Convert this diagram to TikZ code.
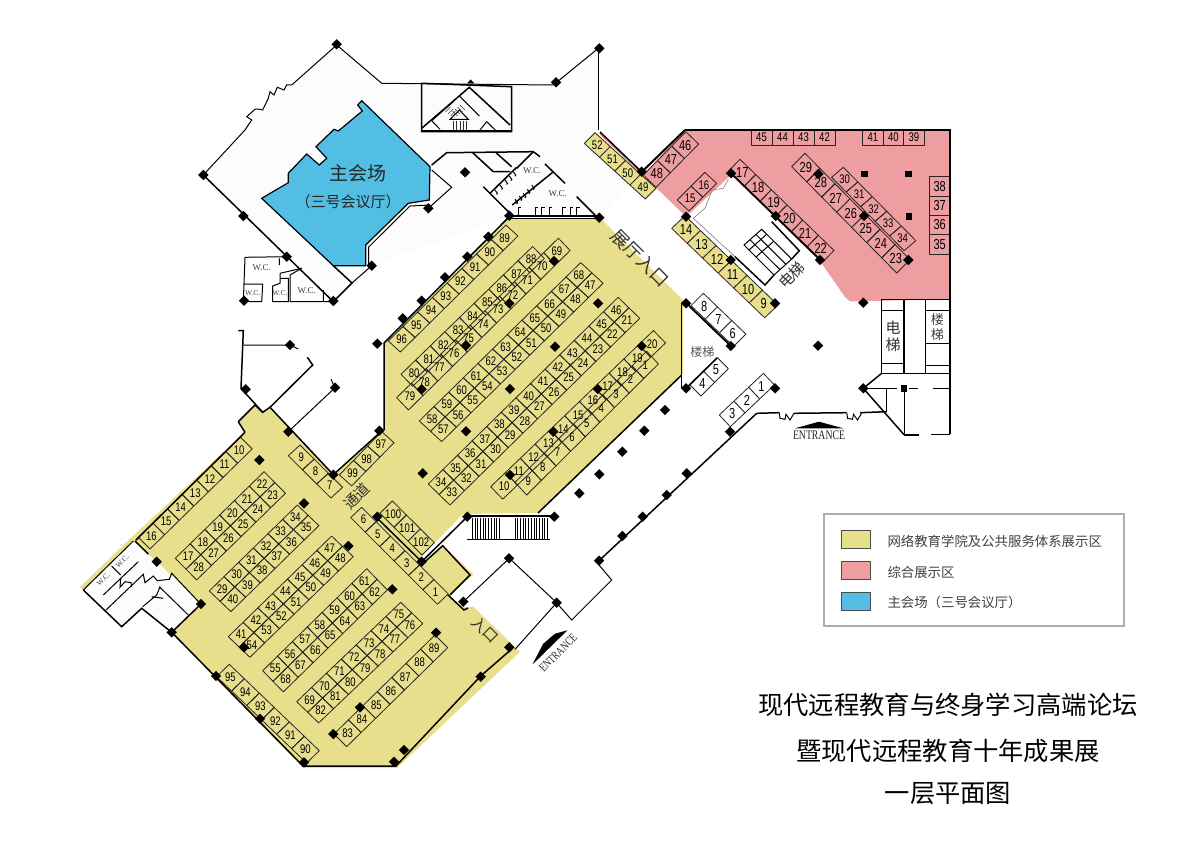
\documentclass[tikz,border=0pt]{standalone}
\usepackage{fontspec}
\newfontfamily\cjk{Noto Sans CJK SC}
\newfontfamily\numfont[FakeStretch=0.76]{Liberation Sans}
\newfontfamily\wcfont{Liberation Serif}
\newfontfamily\gatefont[FakeStretch=0.75]{Liberation Serif}
\definecolor{hallyellow}{HTML}{E8DF8C}
\definecolor{hallpink}{HTML}{EE9DA0}
\definecolor{hallblue}{HTML}{52BEE4}
\tikzset{
  booth/.style={draw=black!85,line width=0.8pt,line join=round,font=\numfont\fontsize{12.5}{12.5}\selectfont},
  boothnum/.style={inner sep=0pt,text=black},
  bignum/.style={font=\numfont\fontsize{14.5}{14.5}\selectfont},
  wall/.style={draw=black,line width=1.5pt,line join=miter},
  thickwall/.style={draw=black,line width=2pt},
  thinwall/.style={draw=black,line width=1pt},
  swatch/.style={draw=black!70,line width=0.8pt},
  wclabel/.style={font=\wcfont\fontsize{9}{9}\selectfont,text=black!75,inner sep=0pt},
  hanlabel/.style={font=\cjk\fontsize{15}{15}\selectfont,text=black!80,inner sep=0pt},
  legendtext/.style={font=\cjk\fontsize{13.4}{13.4}\selectfont,text=black!75,anchor=west,inner sep=0pt},
  titletext/.style={font=\cjk\fontsize{25.3}{25.3}\selectfont,inner sep=0pt}
}
% one straight row of booths: start corner, step along the row, depth, labels
\newcommand{\boothrow}[8][]{
  \foreach \lab [count=\n from 0] in {#8} {
    \draw[booth,#1] ({#2+\n*(#4)},{#3+\n*(#5)}) -- ++(#4,#5) -- ++(#6,#7) -- ++({-(#4)},{-(#5)}) -- cycle
      node[boothnum] (booth\lab) at ({#2+(\n+.5)*(#4)+.5*(#6)},{#3+(\n+.5)*(#5)+.5*(#7)}) {\lab};
  }
}
\begin{document}
\begin{tikzpicture}[x=1pt,y=-1pt]
\useasboundingbox (0,0) rectangle (1200,848);
\fill[white] (0,0) rectangle (1200,848);

% floor areas
\fill[black!1] (336.7,45) -- (381.7,83.3) -- (553.3,85) -- (598.3,48.3) -- (598.3,130) -- (641,172) -- (600,217) -- (508,217) -- (371,265) -- (352,283) -- (333,301) -- (203,175) -- (291.7,85) -- cycle;
\fill[hallyellow] (508,218) -- (600,218) -- (683,300) -- (683,374) -- (538,513) -- (463,514) -- (422,556) -- (426,561) -- (443,545.5) -- (473.5,574.5) -- (448,596) -- (463,607) -- (473.3,606.7) -- (520,651.7) -- (397,768) -- (303,768) -- (171.7,632.3) -- (201,604) -- (156.7,561.7) -- (133.3,541) -- (83.3,590) -- (80,587) -- (133,536) -- (245,432) -- (238.3,421.7) -- (255,405) -- (262.7,412.3) -- (270,407) -- (333.3,474.7) -- (384,430) -- (384,343) -- cycle;
\fill[black!1] (83.3,590) -- (133.3,541) -- (148,554) -- (156.7,561.7) -- (200,603) -- (171.7,632) -- (141.7,608.3) -- (121.7,626.7) -- cycle;
\fill[hallpink] (685,130) -- (950,130) -- (950,299) -- (850,301.5) -- (845,297) -- (820,261) -- (731,175) -- (686,216.7) -- (643,175) -- cycle;
\draw[fill=hallblue,draw=black,line width=1.2pt] (361.7,100.7) -- (430,166.7) -- (429.3,200) -- (408.3,203.3) -- (365.7,245) -- (365.7,265.7) -- (333.3,265.7) -- (261.7,198.3) -- (288.3,182.7) -- (288.3,173.3) -- (306.7,154) -- (319.3,165) -- (326.7,158.3) -- (316,146.7) -- (334,129.3) -- (338.3,131) -- (362.3,111) -- (357.7,105) -- cycle;

% booths, lower hall
\boothrow{138.3}{537.3}{14.6}{-14.3}{11.7}{11.7}{16,15,14,13,12,11,10}
\boothrow{175.3}{558.3}{14.8}{-14.44}{10.67}{10.83}{17,18,19,20,21,22}
\boothrow{186}{569.1}{14.8}{-14.44}{10.67}{10.83}{28,27,26,25,24,23}
\boothrow{209.3}{591}{14.67}{-14.33}{10.8}{10.3}{29,30,31,32,33,34}
\boothrow{220.1}{601.3}{14.67}{-14.33}{10.8}{10.3}{40,39,38,37,36,35}
\boothrow{228.3}{636.7}{14.76}{-14.38}{10.8}{10.3}{41,42,43,44,45,46,47}
\boothrow{239.1}{647}{14.76}{-14.38}{10.8}{10.3}{54,53,52,51,50,49,48}
\boothrow{262.7}{670.7}{14.86}{-14.57}{10.3}{10.6}{55,56,57,58,59,60,61}
\boothrow{273}{681.3}{14.86}{-14.57}{10.3}{10.6}{68,67,66,65,64,63,62}
\boothrow{296.7}{701.7}{14.86}{-14.2}{11}{10.6}{69,70,71,72,73,74,75}
\boothrow{307.7}{712.3}{14.86}{-14.2}{11}{10.6}{82,81,80,79,78,77,76}
\boothrow{334}{734}{14.43}{-14.14}{12.67}{12.67}{83,84,85,86,87,88,89}
\boothrow{229.3}{664.3}{15}{14.4}{-12.67}{12.33}{95,94,93,92,91,90}
\boothrow{300}{445}{14.2}{14.1}{-11.7}{10.7}{9,8,7}
\boothrow{361.7}{507.3}{14.44}{14.44}{-11}{10.3}{6,5,4,3,2,1}
\boothrow{392.3}{501}{14}{13.9}{-12.3}{12.3}{100,101,102}
\boothrow{381.7}{431.7}{-14.1}{14.4}{12.3}{11}{97,98,99}

% booths, upper hall
\boothrow{388.3}{341}{14.7}{-14.5}{12}{11}{96,95,94,93,92,91,90,89}
\boothrow{401}{374.3}{14.63}{-14.2}{11.7}{12}{80,81,82,83,84,85,86,87,88}
\boothrow{396.7}{397.7}{14.7}{-14.5}{11.7}{12.3}{79,78,77,76,75,74,73,72,71,70,69}
\boothrow{419.3}{421}{14.67}{-14.4}{11.2}{10.3}{58,59,60,61,62,63,64,65,66,67,68}
\boothrow{430.5}{431.3}{14.67}{-14.4}{11.2}{10.3}{57,56,55,54,53,52,51,50,49,48,47}
\boothrow{428.3}{484}{14.6}{-14.36}{10.8}{10.5}{34,35,36,37,38,39,40,41,42,43,44,45,46}
\boothrow{439.1}{494.5}{14.6}{-14.36}{10.8}{10.5}{33,32,31,30,29,28,27,26,25,24,23,22,21}
\boothrow{490.7}{486.7}{14.8}{-14.2}{12}{12.5}{10,11,12,13,14,15,16,17,18,19,20}
\boothrow{515}{482.3}{14.63}{-14.56}{11.7}{12.7}{9,8,7,6,5,4,3,2,1}

% booths, pink area and foyer
\boothrow[fill=hallyellow]{595}{132.7}{15.25}{13.9}{-10.7}{10.7}{52,51,50,49}
\boothrow[bignum]{643.3}{175}{14.2}{-14.4}{12.7}{12.3}{48,47,46}
\boothrow{677.3}{200}{13.8}{-13.8}{11.7}{11}{15,16}
\boothrow[bignum]{740}{159.3}{15.67}{15.2}{-11}{11.3}{17,18,19,20,21,22}
\boothrow[bignum]{805}{153.3}{15}{15.2}{-13.3}{13.3}{29,28,27,26,25,24,23}
\boothrow{843.3}{167.3}{14.5}{14.67}{-11.7}{10}{30,31,32,33,34}
\boothrow{751}{130}{21}{0}{0}{15}{45,44,43,42}
\boothrow{862.7}{130}{20.5}{0}{0}{15}{41,40,39}
\boothrow[bignum]{929.3}{176.7}{0}{19.3}{20.7}{0}{38,37,36,35}
\boothrow[fill=hallyellow,bignum]{685}{215.7}{15.5}{14.9}{-13.3}{12.7}{14,13,12,11,10,9}
\boothrow[fill=white,bignum]{703.3}{293.3}{14.2}{13.6}{-12.3}{12.3}{8,7,6}
\boothrow[fill=white,bignum]{690}{385}{13.7}{-13.7}{11}{11}{4,5}
\boothrow[fill=white,bignum]{719.3}{415}{14.7}{-13.9}{11}{11.7}{3,2,1}

% red hairlines on the yellow strips
\draw[red!70,line width=0.5pt,dotted] (671.7,228.3) -- (765,318);
\draw[red!70,line width=0.6pt] (600,134) -- (645,177);

% outer walls, main hall side
\draw[thinwall] (203.3,175) -- (245,130) -- (251.7,120) -- (246.7,116.7) -- (255,109.3) -- (258.3,109) -- (262.7,110) -- (268.3,98.3) -- (270,91.7) -- (274,95) -- (277.3,87.3) -- (284,90) -- (286.7,85) -- (291.7,85) -- (336.7,45) -- (381.7,83.3) -- (553.3,85) -- (598.3,48.3);
\draw[wall] (598.3,48.3) -- (598.3,130);
\draw[wall] (203.3,175) -- (333.3,301.7) -- (352,283) -- (333.3,265.7);
\draw[thinwall] (352,283) -- (371.7,265.7);
\draw[thinwall] (368.7,265) -- (368.7,247) -- (410,206) -- (430,205);
\draw[thinwall] (431.7,170) -- (451.7,187.3) -- (428.3,208.3);
\draw[wall] (431.7,165) -- (446.7,152.7) -- (533.3,151.7) -- (540,156.7);

% stair box at the top
\draw[wall] (421.7,83.3) -- (511.7,86.7) -- (511.7,131.7) -- (421.7,131.7) -- cycle;
\draw[wall] (421.7,128.3) -- (469.3,87.3) -- (510,125);
\draw[wall] (421.7,130.7) -- (511.7,130.7);
\draw[thinwall] (431.7,120.7) -- (453.3,101.7) (431.7,120.7) -- (440,129.3) (459.3,96) -- (479.3,116) (480,130) -- (486.7,121.7) -- (496,130.7);
\draw[thinwall] (450,119.3) -- (459.3,110) -- (468.3,119.3) -- cycle;
\foreach \x in {453.3,456.6,460,463.3,466.7} \draw[black!80,line width=0.6pt] (\x,120.7) -- (\x,130);
\foreach \t in {0,2.5,5,7.5} {
  \draw[black!80,line width=0.6pt] ({443+\t},{110+\t*.8}) -- ++(5,-5);
  \draw[black!80,line width=0.6pt] ({465-\t},{110+\t*.8}) -- ++(-5,-5);
}

% washrooms at the head of the upper hall
\draw[wall] (472.7,152.7) -- (493.3,171.7) -- (510,171.7);
\draw[wall] (496,152.7) -- (511.7,166.7);
\draw[wall] (533.3,151.7) -- (516.7,168.3);
\draw[wall] (483.3,186.7) -- (510,213.3);
\draw[wall] (490,193.3) -- (516.7,167.3);
\draw[wall] (512.3,205) -- (552.7,172.3);
\draw[wall] (545,164) -- (565,183.3);
\draw[wall] (576.7,196.7) -- (595,215);
\draw[wall] (509.3,216) -- (599.3,216);
\draw[thinwall] (507,218.6) -- (600,218.6);
\foreach \x/\y in {495/190,500/185,505/180,509.3/176,513.3/171.7,515/199.3,519.3/196,523.3/193.3,527.3/189.3,531.7/185}
  \draw[thinwall] (\x,\y) -- ++(2.5,3.5) -- ++(-1,1);
\foreach \x in {518.3,535,541.7,549.3,562.7,570,576.7}
  \draw[thinwall] (\x,216) -- (\x,207) -- ++(3,0);

% washrooms lower left of the main hall
\draw[thinwall] (286.7,256.7) -- (245,257.3) -- (243.3,301.7) -- (261.7,301.7) -- (262.7,284) -- (243.3,284);
\draw[thinwall] (279.3,258.3) -- (279.3,265) (280,273.3) -- (280,283.3) (280,278.3) -- (288.3,278.3) -- (288.3,301.7) -- (272.7,301.7) -- (272.7,286) -- (280,283.3);
\draw[thinwall] (301.7,268.3) -- (290,275) -- (290,301.7) -- (333.3,301.7) (323.3,290) -- (323.3,301.7);
\draw[thinwall] (280,273.3) -- (301.7,268.3);

% walls round the lower hall
\draw[wall] (238.3,330.7) -- (243.3,330.7) -- (241,388.3) -- (262.7,412.3) -- (270,407.3) -- (312.7,365) -- (307.3,357.3);
\draw[thinwall] (243.3,345) -- (290,345) -- (298.3,349);
\draw[thinwall] (288.3,431.7) -- (335,387.7) -- (331,379.3);
\draw[wall] (270,407.3) -- (333.3,474.7);
\draw[wall] (333.3,474.7) -- (381.7,431);
\draw[wall] (384,430) -- (384,343) -- (508,218);
\draw[wall] (245,432.3) -- (238.3,421.7) (245,432.3) -- (136,540);
\draw[wall] (238.3,421.7) -- (255,405) -- (262.7,412.3);
\draw[wall] (83.3,590) -- (121.7,626.7) -- (141.7,608.3) -- (171.7,632.3) -- (303,766) -- (396,766) -- (480.7,676) -- (511.7,649);
\draw[thinwall] (83.3,590) -- (133.3,541);
\draw[wall] (135,541) -- (148.3,554);
\draw[thinwall] (103.3,595) -- (138.3,561.7) (111.7,566) -- (120.7,575);
\draw[thinwall] (106,610) -- (143.3,574.3) -- (145,582.7) -- (153.3,576) -- (157.3,580.7) -- (169.3,579.3) -- (171.7,573.3) -- (200,603.3);
\draw[thinwall] (131.7,586.7) -- (131,582.7) -- (125,581.7) -- (120,587.3) -- (120.7,578.3);
\draw[thinwall] (159.3,586.7) -- (188.3,615);
\draw[thinwall] (142.7,606.7) -- (156.7,595) -- (160,586.7) (151.7,596.7) -- (163.3,598.3);
\draw[wall] (201,604) -- (171.7,632.3);

% middle of the lower hall and its entrance
\draw[wall] (376.7,517.7) -- (421.7,561.7);
\draw[wall] (421.7,561.7) -- (467.3,516.7);
\draw[wall] (425,561.7) -- (442.7,545.7) -- (470,575) -- (450,595);
\draw[wall] (448,595) -- (464,610) -- (468,608);
\draw[thinwall] (463.3,601.7) -- (509.3,558.3) -- (556.7,602.7) -- (515,649.3);
\draw[thinwall] (556.7,603) -- (571.7,620) -- (611.7,580) -- (599,565);
\draw[wall] (599,560.7) -- (756.7,413.3);
\draw[wall] (467,516) -- (554,516);
\draw[thinwall] (467.3,539.3) -- (550,539.3);
\foreach \x in {472.3,475,477.7,480.4,483.1,485.8,488.5,491.2,493.9,496.6,499.3,515,517.7,520.4,523.1,525.8,528.5,531.2,533.9,536.6,539.3,542,544.7,547.4}
  \draw[black,line width=0.7pt] (\x,518) -- (\x,539.3);
\draw[wall] (538,513) -- (681.7,375);
\draw[black,fill=black] (533.3,663.3) -- (566.7,630.7) -- (555,634) -- (543.3,644) -- cycle;

% foyer and elevator block
\draw[thickwall] (685,130) -- (950,130) -- (950,434);
\draw[thickwall] (685,130) -- (641.7,172);
\draw[wall] (600,132) -- (641.7,172);
\draw[wall] (731,173.3) -- (820,260);
\draw[wall] (771.7,221.7) -- (799.3,250.7) -- (791.7,259);
\draw[gray,line width=0.6pt] (728.3,179.3) -- (723.3,188.3) -- (712,190) -- (705,208.3) -- (693.3,218.3) -- (735,256.7);
\draw[wall] (735,256.7) -- (765,285) -- (774,275);
\draw[thinwall] (744,245) -- (761.7,229.3) -- (791.7,259) -- (774,275) -- cycle;
\foreach \t in {5,12} \draw[thinwall] ({744+\t},{245+\t}) -- ++(17.7,-15.7);
\draw[thinwall] (750,239.8) -- (780,269.7) (756,234.5) -- (786,264.3);
\draw[wall] (681.7,303) -- (681.7,388.3);
\draw[wall] (686,302.7) -- (730.7,346);
\draw[wall] (690,307) -- (730,345);
\draw[wall] (686,388.3) -- (717,358);
\draw[wall] (881.7,373.3) -- (881.7,299.3) -- (950,299.3) (881.7,373.3) -- (950,373.3);
\draw[wall] (881.7,373.3) -- (863.3,388.3);
\draw[wall] (904,299.3) -- (904,373.3) (925.7,299.3) -- (925.7,373.3);
\draw[thinwall] (881.7,310.7) -- (904,310.7) (881.7,363.3) -- (904,363.3) (925.7,310) -- (950,310) (925.7,343.3) -- (950,343.3) (925.7,365) -- (950,365);
\draw[wall] (863.3,388.3) -- (897,388.3) (909,388.3) -- (917.7,388.3) (933,388.3) -- (950,388.3);
\draw[wall] (904.3,388.3) -- (904.3,435) -- (919.3,435) (931,434.3) -- (950,434.3);
\draw[wall] (863.3,388.3) -- (904.3,435);
\draw[wall] (886.7,388.3) -- (886.7,412);
\draw[wall] (756.7,413.3) -- (779.3,412.7) (794,413.3) -- (846.7,412.7) (860,412.7) -- (886.7,411.7);
\foreach \dx in {0,67.5}
  \draw[thinwall,shift={(\dx,0)}] (779.3,412.7) -- (780,418.3) -- (785,419.3) -- (786,414.3) -- (790,420) -- (794,413.3);
\fill[black] (795,428.3) -- (819,421.7) -- (843.3,428.3) -- cycle;

% columns
\foreach \x/\y in {336.7/44.3,599.3/48.3,556/82.3,203.3/175,465/172.3,243.3/216,428.3/208.3,509.3/215.7,599.3/217.7,286.7/256.7,371.7/265.7,488.3/236.7,467.3/256.7,445/277.3,421.7/300.7,402.7/318.3,244/300.7,333.3/301,377.3/343.7,554/261,509.3/303.3,598/303.3,466/345.3,555/346.7,421.7/389.3,510/389,597.7/389,641.7/346,466/431.3,553.3/431.7,422.7/473.3,510/475,379.3/430.7,686/303.3,686/388.3,665/410,644.3/430.7,622.3/451.7,599.3/474.3,579.3/493.3,666.7/495,686.7/473.3,642.7/516.7,554.3/516.7,467.3/516.7,377.3/516.7,641.7/171.7,731/173.3,686/216.7,775.7/216,818.3/174,864/216,820/260,908.3/260,730.7/260,775/303.3,863.3/302.7,730.7/346,818/345.7,775/388.3,863.3/388.3,730/431.7,288.3/431.7,259.3/460,333.3/474.7,304/503.3,348.3/546,156.7/561.7,201/604,171.7/632.3,244/647.3,216/676,260/718.7,304/762.3,333.3/734,360/707.3,392.3/589.3,436/632.7,509.3/647.3,480.7/676.7,404/750,394/761.7,421.7/561.7,463.3/601.7,509/558.3,556.7/602.7,599/560.7,622.3/536,245.7/389.3,290/345,335/387.7}
  \fill[black] ({\x-5.2},\y) -- (\x,{\y-5.2}) -- ({\x+5.2},\y) -- (\x,{\y+5.2}) -- cycle;
\foreach \x/\y in {864.7/174,908.3/174,909/216.7,904/388.3}
  \fill[black] ({\x-3.4},{\y-3.4}) rectangle ({\x+3.4},{\y+3.4});
\fill[black] (467,83.3) -- (470.7,79.5) -- (474.4,83.3) -- cycle;

% texts in the rooms
\node[font=\cjk\fontsize{19}{19}\selectfont,text=black!85,inner sep=0pt] (mainhall) at (358,173) {主会场};
\node[hanlabel,text=black!85] (mainhallsub) at (348,201.7) {（三号会议厅）};
\node[hanlabel] (corridor) at (356.7,496) [rotate=45] {通道};
\node[hanlabel] (lowerdoor) at (485,630) [rotate=-45] {入口};
\node[font=\cjk\fontsize{18}{18}\selectfont,text=black!80,inner sep=0pt] (halldoor) at (640,258) [rotate=-45] {展厅入口};
\node[hanlabel] (liftcore) at (791.7,275) [rotate=45] {电梯};
\node[font=\cjk\fontsize{12}{12}\selectfont,text=black!65,inner sep=0pt] (stairsmall) at (702.3,351.7) {楼梯};
\node[hanlabel,align=center] (liftright) at (893,336.7) {电\\[2pt]梯};
\node[font=\cjk\fontsize{13}{13}\selectfont,text=black!75,align=center,inner sep=0pt] (stairright) at (937.3,326.7) {楼\\[2pt]梯};
\node[wclabel] (wca) at (261.7,267.7) {W.C.};
\node[wclabel,font=\wcfont\fontsize{7.5}{7.5}\selectfont] (wcb) at (252.7,292.7) {W.C.};
\node[wclabel,font=\wcfont\fontsize{7.5}{7.5}\selectfont] (wcc) at (280,293.3) {W.C.};
\node[wclabel] (wcd) at (306.7,291) {W.C.};
\node[wclabel] (wce) at (532.3,171) {W.C.};
\node[wclabel] (wcf) at (557.7,194) {W.C.};
\node[wclabel,font=\wcfont\fontsize{7.5}{7.5}\selectfont,rotate=45] (wcg) at (103.3,579.3) {W.C.};
\node[wclabel,font=\wcfont\fontsize{7.5}{7.5}\selectfont,rotate=45] (wch) at (122.3,561) {W.C.};
\node[font=\gatefont\fontsize{13}{13}\selectfont,inner sep=0pt,text=black!85] (gatea) at (819,435) {ENTRANCE};
\node[font=\gatefont\fontsize{12}{12}\selectfont,inner sep=0pt,text=black!85,rotate=45] (gateb) at (558,653) {ENTRANCE};

% legend
\draw[black!32,line width=1.2pt,fill=white] (824,514) rectangle (1124,626);
\draw[swatch,fill=hallyellow] (841.7,530.7) rectangle (870.7,548.3);
\draw[swatch,fill=hallpink] (841.7,561.7) rectangle (870.7,579.3);
\draw[swatch,fill=hallblue] (841.7,592.7) rectangle (870.7,610.7);
\node[legendtext] (legenda) at (887.3,541) {网络教育学院及公共服务体系展示区};
\node[legendtext] (legendb) at (887.3,572) {综合展示区};
\node[legendtext] (legendc) at (887.3,602) {主会场（三号会议厅）};

% title
\node[titletext] (titlea) at (948,705) {现代远程教育与终身学习高端论坛};
\node[titletext] (titleb) at (948,751) {暨现代远程教育十年成果展};
\node[titletext] (titlec) at (948,794) {一层平面图};
\end{tikzpicture}
\end{document}
